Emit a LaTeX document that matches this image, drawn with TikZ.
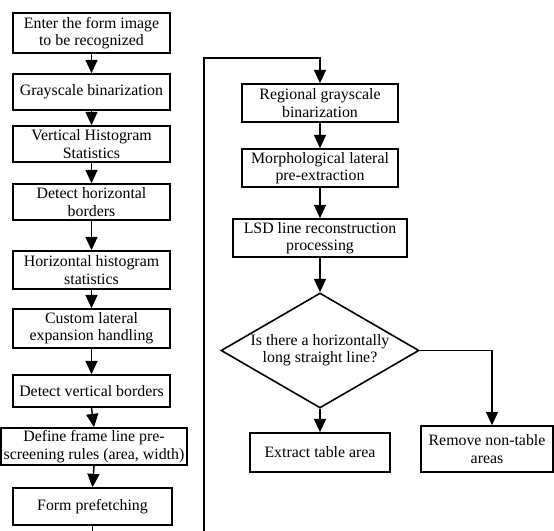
\documentclass[tikz,border=0pt]{standalone}
\usepackage{fontspec}
\setmainfont{Liberation Serif}
\usetikzlibrary{arrows.meta,shapes.geometric}

\begin{document}
\begin{tikzpicture}[x=0.75pt,y=-0.75pt,
        every node/.style={font=\fontsize{11.9}{13}\selectfont,align=center,inner sep=0pt},
        box/.style={draw,line width=1.2pt,minimum width=117.75pt,minimum height=27pt},
        flow/.style={line width=1.1pt,-{Triangle[length=10pt,width=9pt]}}]
        \useasboundingbox (0,0) rectangle (554,531);
        \clip (0,0) rectangle (554,531); %picture is cut at the bottom
        % Left column
        \node[box,minimum height=30pt] (input) at (91.5,33) {Enter the form image\\to be recognized};
        \node[box] (gray) at (91.5,92) {Grayscale binarization};
        \node[box] (vhist) at (91.5,144) {Vertical Histogram\\Statistics};
        \node[box] (hborder) at (91.5,202) {Detect horizontal\\borders};
        \node[box,minimum height=28.5pt] (hhist) at (91.5,270) {Horizontal histogram\\statistics};
        \node[box,minimum height=29.25pt] (lateral) at (91.5,328.5) {Custom lateral\\expansion handling};
        \node[box,minimum height=24pt] (vborder) at (91.5,391) {Detect vertical borders};
        \node[box,minimum width=139.5pt,minimum height=27.75pt] (rules) at (94,446.5) {Define frame line pre-\\screening rules (area, width)};
        \node[box,minimum width=119.25pt,minimum height=27.75pt] (prefetch) at (92.5,506.5) {Form prefetching};
        % Right column
        \coordinate (loop) at (320,58);
        \node[box,minimum width=117pt,minimum height=28.5pt] (regional) at (320,103) {Regional grayscale\\binarization};
        \node[box,minimum width=117pt,minimum height=28.5pt] (morph) at (320,168) {Morphological lateral\\pre-extraction};
        \node[box,minimum width=130.5pt,minimum height=28.5pt] (lsd) at (320,238) {LSD line reconstruction\\processing};
        \node[draw,line width=1.2pt,diamond,aspect=1.72,minimum width=148.5pt,minimum height=86.25pt] (decide) at (320,350.5) {Is there a horizontally\\long straight line?};
        \node[box,minimum width=105pt,minimum height=29.25pt] (extract) at (320,452.5) {Extract table area};
        \node[box,minimum width=99pt,minimum height=34.5pt] (remove) at (487,449) {Remove non-table\\areas};

        \foreach \a/\b in {input/gray,gray/vhist,vhist/hborder,hborder/hhist,hhist/lateral,
            lateral/vborder,vborder/rules,rules/prefetch,regional/morph,morph/lsd,lsd/decide,decide/extract}
            \draw[flow] (\a.south) -- (\b.north);
        \draw[flow] (prefetch.south) |- (204,545) |- (loop) -- (regional.north); %back to the top
        \draw[flow] (decide.east) -| ([xshift=3.75pt]remove.north);
\end{tikzpicture}
\end{document}
